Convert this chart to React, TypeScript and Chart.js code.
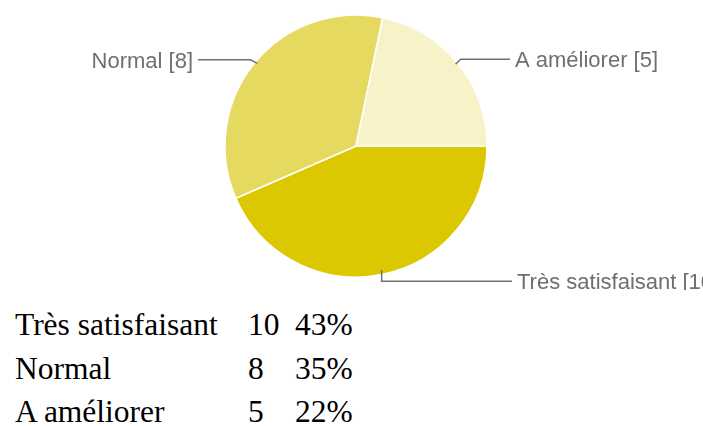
import React, { useEffect, useRef } from "react";
import { Chart, registerables } from "chart.js";

Chart.register(...registerables);

const categories = ["Très satisfaisant", "Normal", "A améliorer"];
const counts = [10, 8, 5];
const percents = ["43%", "35%", "22%"];
const colors = ["#DCC800", "#E6D960", "#F7F2C8"];

const LABEL_FONT = "22px 'Liberation Sans', Arial, sans-serif";

const leaderPlugin = {
  id: "leaders",
  afterDatasetsDraw(chart: any) {
    const meta = chart.getDatasetMeta(0);
    const ctx = chart.ctx;
    ctx.save();
    ctx.font = LABEL_FONT;
    ctx.strokeStyle = "#707070";
    ctx.fillStyle = "#6f6f6f";
    ctx.lineWidth = 1.5;
    meta.data.forEach((arc: any, i: number) => {
      const { x, y, startAngle, endAngle, outerRadius } = arc.getProps(
        ["x", "y", "startAngle", "endAngle", "outerRadius"],
        true
      );
      const mid = (startAngle + endAngle) / 2;
      const ax = x + Math.cos(mid) * outerRadius;
      const ay = y + Math.sin(mid) * outerRadius;
      const text = `${chart.data.labels[i]} [${counts[i]}]`;
      ctx.beginPath();
      ctx.textBaseline = "alphabetic";
      if (Math.sin(mid) > 0.9) {
        const ly = ay + 7;
        const ex = x + 156;
        ctx.moveTo(ax - 1, ay - 4);
        ctx.lineTo(ax - 1, ly);
        ctx.lineTo(ex, ly);
        ctx.stroke();
        ctx.textAlign = "left";
        ctx.fillText(text, ex + 5, ly + 7.9);
      } else if (Math.cos(mid) < 0) {
        const ly = ay - 3.5;
        const ex = x - 158;
        ctx.moveTo(ax + 3, ay);
        ctx.lineTo(ax - 4, ly);
        ctx.lineTo(ex, ly);
        ctx.stroke();
        ctx.textAlign = "right";
        ctx.fillText(text, ex - 5, ly + 7.9);
      } else {
        const ly = ay - 4;
        const ex = x + 154;
        ctx.moveTo(ax - 2, ay + 1);
        ctx.lineTo(ax + 3, ly);
        ctx.lineTo(ex, ly);
        ctx.stroke();
        ctx.textAlign = "left";
        ctx.fillText(text, ex + 5, ly + 7.9);
      }
    });
    ctx.restore();
  },
};

function PieChart() {
  const ref = useRef<HTMLCanvasElement>(null);
  useEffect(() => {
    if (!ref.current) return;
    const chart = new Chart(ref.current, {
      type: "pie",
      data: {
        labels: categories,
        datasets: [
          {
            data: counts,
            backgroundColor: colors,
            borderColor: "#ffffff",
            borderWidth: 1.5,
            radius: 131,
          } as any,
        ],
      },
      options: {
        responsive: false,
        animation: false,
        rotation: 90,
        layout: { padding: { left: 100, right: 91, top: 10, bottom: 8 } },
        plugins: {
          legend: { display: false },
          tooltip: { enabled: false },
        },
      },
      plugins: [leaderPlugin],
    });
    return () => chart.destroy();
  }, []);
  return (
    <canvas
      ref={ref}
      width={703}
      height={290}
      style={{ position: "absolute", left: 0, top: 0, width: 703, height: 290 }}
    />
  );
}

export default function App() {
  return (
    <div
      style={{
        position: "fixed",
        left: 0,
        top: 0,
        width: 703,
        height: 426,
        background: "#ffffff",
        overflow: "hidden",
      }}
    >
      <PieChart />
      <div
        style={{
          position: "absolute",
          left: 0,
          top: 303,
          fontFamily: "'Liberation Serif', 'Times New Roman', serif",
          fontSize: 31.5,
          color: "#000",
        }}
      >
        {categories.map((c, i) => (
          <div key={c} style={{ position: "relative", height: 43.5, lineHeight: "43.5px", whiteSpace: "nowrap" }}>
            <span style={{ position: "absolute", left: 15 }}>{c}</span>
            <span style={{ position: "absolute", left: 248 }}>{counts[i]}</span>
            <span style={{ position: "absolute", left: 295 }}>{percents[i]}</span>
          </div>
        ))}
      </div>
    </div>
  );
}
